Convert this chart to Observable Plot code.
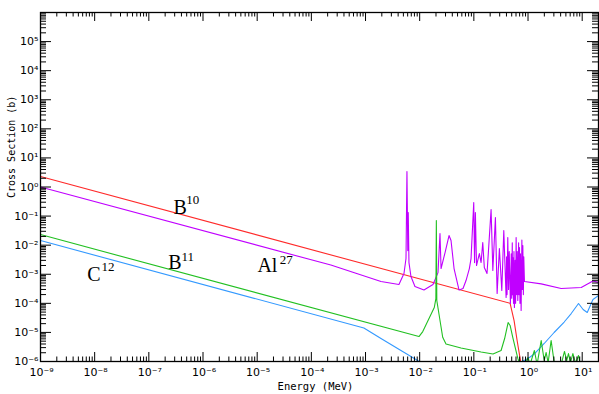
<!DOCTYPE html>
<html><head><meta charset="utf-8">
<script src="https://cdn.jsdelivr.net/npm/d3@7"></script>
<script src="https://cdn.jsdelivr.net/npm/@observablehq/plot@0.6"></script>
<style>body{margin:0;background:#fff}svg{display:block}</style>
</head><body><div id="chart"></div>
<script>
// ---- data (energy in MeV, cross section in barns) ----
const b10Energy = [1e-9, 0.467, 0.553, 0.629, 0.746];
const b10Sigma  = [2.3, 1.0e-4, 2.56e-5, 5.27e-6, 7.9e-7];

const al27Energy = [1e-9, 2.29e-4, 1.93e-3, 4.14e-3, 5.13e-3, 5.59e-3, 5.82e-3, 6.03e-3, 6.15e-3, 6.34e-3,
  6.90e-3, 8.18e-3, 1.20e-2, 1.76e-2, 2.18e-2, 2.37e-2, 2.48e-2, 2.94e-2, 3.48e-2, 3.79e-2,
  4.31e-2, 5.33e-2, 6.31e-2, 7.17e-2, 8.26e-2, 8.87e-2, 9.95e-2, 0.103, 0.1067, 0.112,
  0.1264, 0.136, 0.146, 0.156, 0.175, 0.208, 0.224, 0.250, 0.269, 0.296,
  0.328, 0.357, 0.394, 0.402, 0.41, 0.423, 0.437, 0.45, 0.473, 0.49,
  0.50, 0.512, 0.518, 0.524, 0.54, 0.55, 0.561, 0.58, 0.59, 0.603,
  0.62, 0.632, 0.648, 0.67, 0.68, 0.695, 0.71, 0.725, 0.746, 0.77,
  0.785, 0.802, 0.82, 0.835, 0.859, 1.75, 4.09, 9.6, 15.8, 20];
const al27Sigma = [1.0, 2.07e-3, 5.61e-4, 4.43e-4, 1.06e-3, 3.47e-3, 3.38, 6.5e-3, 0.132, 2.52e-3,
  8.34e-4, 3.78e-4, 2.86e-4, 4.43e-4, 1.14e-3, 2.51e-2, 1.57e-3, 5.57e-3, 2.14e-2, 1.44e-2,
  1.57e-3, 2.86e-4, 3.23e-4, 6.08e-4, 1.57e-3, 3.47e-3, 0.291, 2.52e-3, 0.132, 1.99e-3,
  5.14e-3, 2.52e-3, 1.23e-2, 1.70e-3, 1.06e-3, 0.167, 1.34e-3, 8.87e-2, 2.17e-4, 7.64e-3,
  2.75e-4, 3.18e-2, 1.58e-4, 4.0e-3, 2.0e-4, 1.82e-2, 3.0e-4, 6.0e-3, 9.84e-5, 5.0e-3,
  1.5e-4, 1.2e-2, 2.0e-4, 3.75e-3, 1.0e-4, 6.0e-3, 7.18e-5, 3.0e-3, 1.0e-4, 1.82e-2,
  2.0e-4, 6.0e-3, 1.25e-4, 1.2e-2, 2.0e-4, 8.28e-3, 1.0e-4, 5.0e-3, 5.66e-5, 1.5e-2,
  3.0e-4, 9.69e-3, 2.0e-4, 4.0e-3, 5.61e-4, 4.68e-4, 3.23e-4, 3.49e-4, 5.83e-4, 5.19e-4];

const b11Energy = [1e-9, 9.7e-3, 1.14e-2, 1.86e-2, 1.99e-2, 2.03e-2, 2.07e-2, 2.66e-2, 3.06e-2, 5.79e-2,
  0.136, 0.226, 0.318, 0.370, 0.429, 0.467, 0.524, 0.648, 0.714, 0.883,
  1.00, 1.09, 1.31, 1.47, 1.75, 1.99, 2.16, 2.35, 2.67, 3.08,
  4.09, 4.71, 5.17, 5.58, 6.08, 6.73, 7.58, 8.55, 9.31, 20];
const b11Sigma = [2.31e-2, 7.2e-6, 1.07e-5, 7.18e-5, 1.46e-4, 7.0e-2, 1.25e-4, 6.84e-6, 3.99e-6, 2.91e-6,
  2.12e-6, 1.81e-6, 2.39e-6, 6.17e-6, 2.19e-5, 1.73e-5, 6.68e-6, 1.27e-6, 7.9e-7, 7.9e-7,
  1.37e-6, 7.9e-7, 2.39e-6, 7.9e-7, 5.27e-6, 1.08e-6, 2.04e-6, 9.2e-7, 5.27e-6, 7.9e-7,
  7.9e-7, 2.21e-6, 1.08e-6, 1.88e-6, 9.2e-7, 1.88e-6, 8.5e-7, 1.61e-6, 7.3e-7, 5e-7];

const c12Energy = [1e-9, 9.33e-4, 1.93e-3, 4.51e-3, 1.06e-2, 1.31e-2, 0.448, 0.531, 0.778, 1.0,
  1.30, 1.99, 3.03, 4.65, 6.27, 8.55, 10.4, 12.4, 15.8, 20];
const c12Sigma = [1.44e-2, 1.42e-5, 6.17e-6, 2.39e-6, 9.2e-7, 6.7e-7, 6.7e-7, 9.6e-7, 1.0e-6, 1.27e-6,
  1.81e-6, 4.16e-6, 9.93e-6, 2.28e-5, 4.46e-5, 9.84e-5, 6.12e-5, 4.83e-5, 1.35e-4, 1.85e-4];

// curve labels (base text + superscript), placed in data coordinates
const labelBase   = ["B", "B", "Al", "C"];
const labelBaseE  = [2.84e-7, 2.29e-7, 1.01e-5, 7.3e-9];
const labelBaseS  = [0.202, 2.55e-3, 1.95e-3, 1.01e-3];
const labelSup    = ["10", "11", "27", "12"];
const labelSupE   = [4.93e-7, 3.99e-7, 2.62e-5, 1.34e-8];
const labelSupS   = [0.375, 4.12e-3, 3.25e-3, 1.87e-3];

// axis tick label exponents
const xTickExp = [-9, -8, -7, -6, -5, -4, -3, -2, -1, 0, 1];
const yTickExp = [-6, -5, -4, -3, -2, -1, 0, 1, 2, 3, 4, 5];
const xMajorExp = [-9, -8, -7, -6, -5, -4, -3, -2, -1, 0, 1];
const yMajorExp = [-6, -5, -4, -3, -2, -1, 0, 1, 2, 3, 4, 5, 6];

// ---- build ----
const rows = (E, S) => E.map((e, i) => ({e, s: S[i]}));
const labRows = (T, E, S) => T.map((t, i) => ({t, e: E[i], s: S[i]}));
const xMajor = xMajorExp.map(d => 10 ** d);
const yMajor = yMajorExp.map(d => 10 ** d);
const xMinor = [], yMinor = [];
for (const d of xMajorExp) for (let k = 2; k <= 9; k++) { const v = k * 10 ** d; if (v <= 20) xMinor.push(v); }
for (const d of yMajorExp.slice(0, -1)) for (let k = 2; k <= 9; k++) yMinor.push(k * 10 ** d);

const W = 599, H = 394, ML = 40, MR = 1, MT = 12, MB = 33;
const innerW = W - ML - MR, innerH = H - MT - MB;
const mono = "DejaVu Sans Mono";
const sans = "DejaVu Sans";
const serif = "Liberation Serif";
const SUP = {"-": "\u207B", "0": "\u2070", "1": "\u00B9", "2": "\u00B2", "3": "\u00B3", "4": "\u2074",
             "5": "\u2075", "6": "\u2076", "7": "\u2077", "8": "\u2078", "9": "\u2079"};
const powLabel = d => "10" + String(d).split("").map(c => SUP[c]).join("");

const chart = Plot.plot({
  width: W, height: H,
  marginLeft: ML, marginRight: MR, marginTop: MT, marginBottom: MB,
  style: {background: "#fff", overflow: "visible"},
  x: {type: "log", domain: [1e-9, 20], axis: null},
  y: {type: "log", domain: [1e-6, 1e6], axis: null},
  marks: [
    // curves
    Plot.line(rows(b10Energy, b10Sigma), {x: "e", y: "s", stroke: "#ff2a2a", strokeWidth: 1.1, clip: true}),
    Plot.line(rows(al27Energy, al27Sigma), {x: "e", y: "s", stroke: "#c000ff", strokeWidth: 1.1, clip: true}),
    Plot.line(rows(c12Energy, c12Sigma), {x: "e", y: "s", stroke: "#3399ff", strokeWidth: 1.1, clip: true}),
    Plot.line(rows(b11Energy, b11Sigma), {x: "e", y: "s", stroke: "#22c022", strokeWidth: 1.1, clip: true}),
    // frame
    Plot.frame({stroke: "#000", strokeWidth: 1.3}),
    // x ticks (bottom & top, inward)
    Plot.tickX(xMajor, {x: d => d, insetTop: innerH - 9, stroke: "#000"}),
    Plot.tickX(xMinor, {x: d => d, insetTop: innerH - 4.5, stroke: "#000"}),
    Plot.tickX(xMajor, {x: d => d, insetBottom: innerH - 9, stroke: "#000"}),
    Plot.tickX(xMinor, {x: d => d, insetBottom: innerH - 4.5, stroke: "#000"}),
    // y ticks (left & right, inward)
    Plot.tickY(yMajor, {y: d => d, insetRight: innerW - 11, stroke: "#000"}),
    Plot.tickY(yMinor, {y: d => d, insetRight: innerW - 6, stroke: "#000"}),
    Plot.tickY(yMajor, {y: d => d, insetLeft: innerW - 11, stroke: "#000"}),
    Plot.tickY(yMinor, {y: d => d, insetLeft: innerW - 6, stroke: "#000"}),
    // x tick labels
    Plot.text(xTickExp, {x: d => 10 ** d, text: powLabel, frameAnchor: "bottom", textAnchor: "middle", dx: 1, dy: 14, fontSize: 11, fontFamily: sans, fill: "#000"}),
    // y tick labels
    Plot.text(yTickExp, {y: d => 10 ** d, text: powLabel, frameAnchor: "left", textAnchor: "end", dx: -2, dy: 0, fontSize: 11, fontFamily: sans, fill: "#000"}),
    // axis titles
    Plot.text(["Energy (MeV)"], {frameAnchor: "bottom", dx: -4, dy: 28.5, fontSize: 10.5, fontFamily: mono, fill: "#000"}),
    Plot.text(["Cross Section (b)"], {frameAnchor: "left", dx: -29, dy: 11, rotate: -90, fontSize: 10, fontFamily: mono, fill: "#000"}),
    // curve labels
    Plot.text(labRows(labelBase, labelBaseE, labelBaseS), {x: "e", y: "s", text: "t", textAnchor: "start", fontSize: 20, fontFamily: serif, fill: "#000"}),
    Plot.text(labRows(labelSup, labelSupE, labelSupS), {x: "e", y: "s", text: "t", textAnchor: "start", fontSize: 13, fontFamily: serif, fill: "#000"})
  ]
});
document.getElementById("chart").appendChild(chart);
</script>
</body></html>
